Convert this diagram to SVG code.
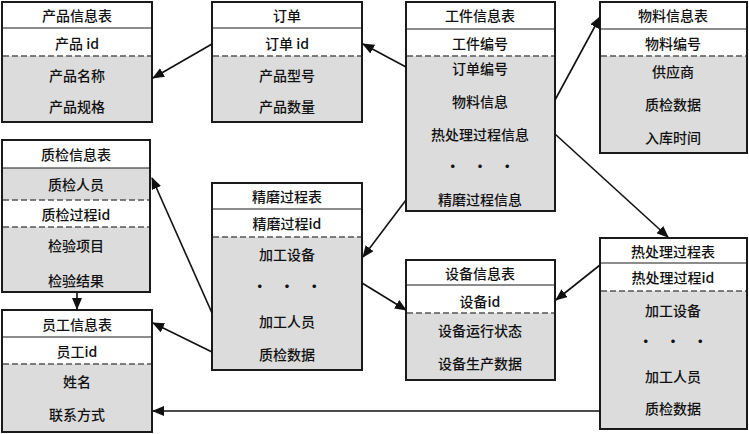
<svg xmlns="http://www.w3.org/2000/svg" width="749" height="434" viewBox="0 0 749 434">
<style>
.box{fill:#ffffff;stroke:#1a1a1a;stroke-width:2}
.gray{fill:#dcdcdc;stroke:none}
.sep{stroke:#1a1a1a;stroke-width:1.2}
.dash{stroke:#555;stroke-width:1.3;stroke-dasharray:6,3}
.t{font-family:"Noto Sans CJK SC","Liberation Sans",sans-serif;font-size:14px;font-weight:500;fill:#111;text-anchor:middle;dominant-baseline:central}
.dots{font-weight:bold;word-spacing:10px}
.c{stroke:#111;stroke-width:1.6;fill:none;marker-end:url(#ah)}
</style>
<defs>
<marker id="ah" markerUnits="userSpaceOnUse" markerWidth="12" markerHeight="10" refX="11" refY="5" orient="auto">
<path d="M0,0 L12,5 L0,10 Z" fill="#111"/>
</marker>
</defs>

<g id="n-product">
<rect class="box" x="2" y="2" width="150" height="120"/>
<rect class="gray" x="3" y="56" width="148" height="65"/>
<line class="sep" x1="2" y1="28" x2="152" y2="28"/>
<line class="dash" x1="3" y1="56" x2="151" y2="56"/>
<text class="t" x="77" y="15">产品信息表</text>
<text class="t" x="77" y="43">产品 id</text>
<text class="t" x="77" y="75">产品名称</text>
<text class="t" x="77" y="106">产品规格</text>
</g>

<g id="n-order">
<rect class="box" x="212" y="2" width="150" height="120"/>
<rect class="gray" x="213" y="56" width="148" height="65"/>
<line class="sep" x1="212" y1="28" x2="362" y2="28"/>
<line class="dash" x1="213" y1="56" x2="361" y2="56"/>
<text class="t" x="287" y="15">订单</text>
<text class="t" x="287" y="43">订单 id</text>
<text class="t" x="287" y="75">产品型号</text>
<text class="t" x="287" y="106">产品数量</text>
</g>

<g id="n-workpiece">
<rect class="box" x="406" y="2" width="149" height="209"/>
<rect class="gray" x="407" y="56" width="147" height="154"/>
<line class="sep" x1="406" y1="29" x2="555" y2="29"/>
<line class="dash" x1="407" y1="56" x2="554" y2="56"/>
<text class="t" x="480" y="15">工件信息表</text>
<text class="t" x="480" y="43">工件编号</text>
<text class="t" x="480" y="68">订单编号</text>
<text class="t" x="480" y="101">物料信息</text>
<text class="t" x="480" y="134">热处理过程信息</text>
<text class="t dots" x="480" y="165">· · ·</text>
<text class="t" x="480" y="199">精磨过程信息</text>
</g>

<g id="n-material">
<rect class="box" x="600" y="2" width="147" height="151"/>
<rect class="gray" x="601" y="56" width="145" height="96"/>
<line class="sep" x1="600" y1="29" x2="747" y2="29"/>
<line class="dash" x1="601" y1="56" x2="746" y2="56"/>
<text class="t" x="673" y="15">物料信息表</text>
<text class="t" x="673" y="43">物料编号</text>
<text class="t" x="673" y="71">供应商</text>
<text class="t" x="673" y="104">质检数据</text>
<text class="t" x="673" y="137">入库时间</text>
</g>

<g id="n-qc">
<rect class="box" x="2" y="140" width="148" height="152"/>
<rect class="gray" x="3" y="168" width="146" height="32"/>
<rect class="gray" x="3" y="227" width="146" height="64"/>
<line class="sep" x1="2" y1="168" x2="150" y2="168"/>
<line class="dash" x1="3" y1="200" x2="149" y2="200"/>
<line class="dash" x1="3" y1="227" x2="149" y2="227"/>
<text class="t" x="76" y="154">质检信息表</text>
<text class="t" x="76" y="184">质检人员</text>
<text class="t" x="76" y="214">质检过程id</text>
<text class="t" x="76" y="245">检验项目</text>
<text class="t" x="76" y="280">检验结果</text>
</g>

<g id="n-grind">
<rect class="box" x="212" y="183" width="150" height="187"/>
<rect class="gray" x="213" y="237" width="148" height="132"/>
<line class="sep" x1="212" y1="209" x2="362" y2="209"/>
<line class="dash" x1="213" y1="237" x2="361" y2="237"/>
<text class="t" x="287" y="196">精磨过程表</text>
<text class="t" x="287" y="223">精磨过程id</text>
<text class="t" x="287" y="254">加工设备</text>
<text class="t dots" x="287" y="285">· · ·</text>
<text class="t" x="287" y="321">加工人员</text>
<text class="t" x="287" y="354">质检数据</text>
</g>

<g id="n-staff">
<rect class="box" x="2" y="310" width="150" height="122"/>
<rect class="gray" x="3" y="364" width="148" height="67"/>
<line class="sep" x1="2" y1="337" x2="152" y2="337"/>
<line class="dash" x1="3" y1="364" x2="151" y2="364"/>
<text class="t" x="77" y="324">员工信息表</text>
<text class="t" x="77" y="351">员工id</text>
<text class="t" x="77" y="381">姓名</text>
<text class="t" x="77" y="414">联系方式</text>
</g>

<g id="n-device">
<rect class="box" x="406" y="260" width="149" height="120"/>
<rect class="gray" x="407" y="313" width="147" height="66"/>
<line class="sep" x1="406" y1="285" x2="555" y2="285"/>
<line class="dash" x1="407" y1="313" x2="554" y2="313"/>
<text class="t" x="480" y="273">设备信息表</text>
<text class="t" x="480" y="301">设备id</text>
<text class="t" x="480" y="330">设备运行状态</text>
<text class="t" x="480" y="363">设备生产数据</text>
</g>

<g id="n-heat">
<rect class="box" x="600" y="238" width="147" height="191"/>
<rect class="gray" x="601" y="291" width="145" height="137"/>
<line class="sep" x1="600" y1="263" x2="747" y2="263"/>
<line class="dash" x1="601" y1="291" x2="746" y2="291"/>
<text class="t" x="673" y="251">热处理过程表</text>
<text class="t" x="673" y="277">热处理过程id</text>
<text class="t" x="673" y="310">加工设备</text>
<text class="t dots" x="673" y="340">· · ·</text>
<text class="t" x="673" y="376">加工人员</text>
<text class="t" x="673" y="408">质检数据</text>
</g>

<g id="connectors">
<line class="c" x1="212" y1="44" x2="153" y2="78"/>
<line class="c" x1="406" y1="67" x2="363" y2="44"/>
<line class="c" x1="555" y1="100" x2="600" y2="17"/>
<line class="c" x1="555" y1="134" x2="668" y2="237"/>
<line class="c" x1="406" y1="200" x2="363" y2="257"/>
<line class="c" x1="362" y1="283" x2="406" y2="310"/>
<line class="c" x1="600" y1="265" x2="556" y2="300"/>
<line class="c" x1="212" y1="313" x2="152" y2="178"/>
<line class="c" x1="212" y1="352" x2="153" y2="323"/>
<line class="c" x1="600" y1="411" x2="153" y2="411"/>
<line class="c" x1="77" y1="292" x2="77" y2="309"/>
</g>
</svg>
